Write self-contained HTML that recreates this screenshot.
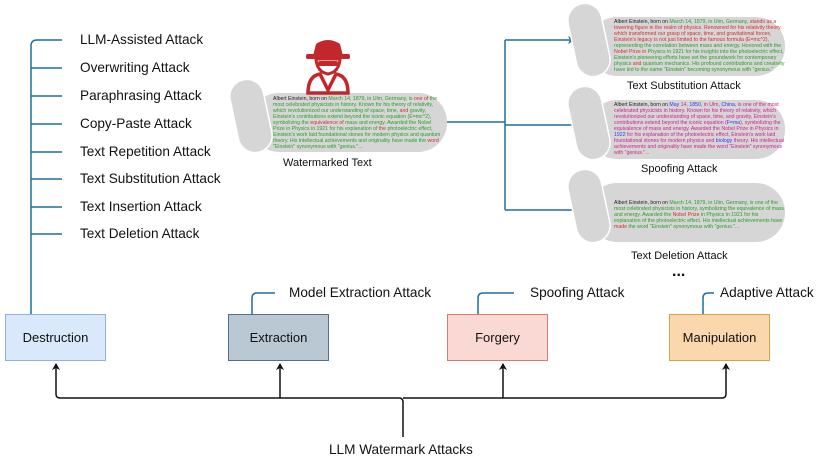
<!DOCTYPE html>
<html><head><meta charset="utf-8"><style>
body{margin:0;width:830px;height:462px;background:#fff;overflow:hidden;font-family:"Liberation Sans",sans-serif;position:relative}
.t{position:absolute;font-size:13.6px;color:#111;white-space:nowrap}
.box{position:absolute;width:101px;height:47px;display:flex;align-items:center;justify-content:center;font-size:13px;color:#111;box-sizing:border-box}
.sc{position:absolute;font-size:5.2px;line-height:6px;color:#2a9d2a}
.sc b{font-weight:normal;color:#222}.sc r{color:#d32f2f}.sc u{text-decoration:none;color:#3333ee}.sc m{color:#d02090}
.lab{position:absolute;font-size:11px;color:#111;white-space:nowrap}
</style></head><body>
<svg width="830" height="462" style="position:absolute;left:0;top:0">
<defs>
<marker id="ab" markerWidth="8" markerHeight="8" refX="6" refY="4" orient="auto" markerUnits="userSpaceOnUse"><path d="M0,0 L7,4 L0,8 L2,4z" fill="#111"/></marker>
<marker id="ah" markerWidth="8" markerHeight="8" refX="6" refY="4" orient="auto" markerUnits="userSpaceOnUse"><path d="M0,0 L7,4 L0,8 L2,4z" fill="#1f6f9a"/></marker>
<g id="scroll">
<rect x="20" y="17" width="197" height="59" rx="29" fill="#d6d6d6"/>
<rect x="4" y="3" width="34" height="74" rx="17" fill="#d6d6d6" stroke="#fff" stroke-width="1.5" transform="rotate(-12 21 40)"/>
</g>
</defs>
<g fill="none" stroke="#1f6f9a" stroke-width="1.5">
<path d="M31,314 V46 Q31,40 37,40 H62"/>
<path d="M31,68 H62 M31,96 H62 M31,124 H62 M31,152 H62 M31,179 H62 M31,207 H62 M31,234 H62"/>
<path d="M252,314 V298 Q252,293 257,293 H275"/>
<path d="M478,314 V298 Q478,293 483,293 H514"/>
<path d="M703,314 V298 Q703,293 708,293 H714"/>
<path d="M438,122 H505"/>
<path d="M505,40 V210"/>
<path d="M505,40 H574" marker-end="url(#ah)"/>
<path d="M505,125 H574"/>
<path d="M505,210 H574"/>
</g>
<g fill="none" stroke="#111" stroke-width="1.5">
<path d="M403,437 V401 M403,402 Q403,398 399,398 H60 Q56,398 56,394 V364" marker-end="url(#ab)"/>
<path d="M403,398 H722 Q726,398 726,394 V364" marker-end="url(#ab)"/>
<path d="M280,398 V364" marker-end="url(#ab)"/>
<path d="M503,398 V364" marker-end="url(#ab)"/>
</g>
<use href="#scroll" x="230" y="76"/>
<use href="#scroll" x="568" y="0"/>
<use href="#scroll" x="568" y="83"/>
<use href="#scroll" x="568" y="166"/>
<g fill="#c0282b">
<path d="M313,56 L316,44 Q328,36 340,44 L343,56 Z"/>
<rect x="306" y="54" width="44" height="5" rx="2"/>
<path d="M316,59 H340 Q339,72 328,74 Q317,72 316,59Z" fill="none" stroke="#c0282b" stroke-width="3"/>
<rect x="318" y="61" width="20" height="5" rx="2"/>
<path d="M308,93 Q308,76 320,74 L328,90 L336,74 Q348,76 348,93 Z" fill="none" stroke="#c0282b" stroke-width="3.5"/>
</g>
<text x="672" y="276" font-size="16" font-weight="bold" fill="#111" font-family="Liberation Sans">...</text>
</svg>
<div class="t" style="left:80px;top:32px">LLM-Assisted Attack</div>
<div class="t" style="left:80px;top:60px">Overwriting Attack</div>
<div class="t" style="left:80px;top:88px">Paraphrasing Attack</div>
<div class="t" style="left:80px;top:116px">Copy-Paste Attack</div>
<div class="t" style="left:80px;top:144px">Text Repetition Attack</div>
<div class="t" style="left:80px;top:171px">Text Substitution Attack</div>
<div class="t" style="left:80px;top:199px">Text Insertion Attack</div>
<div class="t" style="left:80px;top:226px">Text Deletion Attack</div>
<div class="t" style="left:289px;top:285px">Model Extraction Attack</div>
<div class="t" style="left:530px;top:285px">Spoofing Attack</div>
<div class="t" style="left:720px;top:285px">Adaptive Attack</div>
<div class="t" style="left:329px;top:442px">LLM Watermark Attacks</div>
<div class="box" style="left:5px;top:314px;background:#dae8fc;border:1px solid #8fb0e0">Destruction</div>
<div class="box" style="left:228px;top:314px;background:#bac8d3;border:1px solid #52708a">Extraction</div>
<div class="box" style="left:447px;top:314px;background:#fad9d5;border:1px solid #d87a72">Forgery</div>
<div class="box" style="left:669px;top:314px;background:#fad7ac;border:1px solid #d8a048">Manipulation</div>
<div class="lab" style="left:283px;top:157px">Watermarked Text</div>
<div class="lab" style="left:627px;top:80px">Text Substitution Attack</div>
<div class="lab" style="left:641px;top:163px">Spoofing Attack</div>
<div class="lab" style="left:631px;top:250px">Text Deletion Attack</div>
<div class="sc" style="left:273px;top:96px;width:168px"><b>Albert Einstein, born on</b> March 14, 1879, in Ulm, Germany, is <r>one of</r> the most celebrated physicists in history. Known for his theory of relativity, which revolutionized our understanding of space, time, <r>and</r> gravity, Einstein's contributions extend beyond the iconic equation (E=mc^2), symbolizing the <r>equivalence of</r> mass and energy. Awarded the Nobel Prize in Physics in 1921 for his explanation of <r>the</r> photoelectric effect, Einstein's work laid foundational stones for modern physics and quantum theory. His intellectual achievements and originality have made the <r>word</r> "Einstein" synonymous with "genius."...</div>
<div class="sc" style="left:614px;top:19px;width:172px"><b>Albert Einstein, born on</b> March 14, 1879, in Ulm, Germany, <r>stands as a towering figure in the realm of physics. Renowned for his relativity theory, which transformed our grasp of space, time, and gravitational forces, Einstein's legacy is not just limited to the famous formula (E=mc^2),</r> representing the correlation between mass and energy. Honored with the <r>Nobel Prize in</r> Physics in 1921 for his insights into the photoelectric effect, Einstein's pioneering efforts have set the groundwork for contemporary physics <r>and</r> quantum mechanics. His profound contributions and creativity have led to the name "Einstein" becoming synonymous with "genius."</div>
<div class="sc" style="left:614px;top:102px;width:172px;color:#d02090"><b>Albert Einstein, born on</b> <u>May</u> 14, <u>1850</u>, in Ulm, <u>China</u>, is one of the most celebrated physicists in history. Known for his theory of relativity, which revolutionized our understanding of space, time, and gravity, Einstein's contributions extend beyond the iconic equation (<u>F=ma</u>), symbolizing the equivalence of mass and energy. Awarded the Nobel Prize in Physics in <u>1922</u> for his explanation of the photoelectric effect, Einstein's work laid foundational stones for modern physics and <u>biology</u> theory. His intellectual achievements and originality have made the word "Einstein" synonymous with "genius."...</div>
<div class="sc" style="left:614px;top:200px;width:172px"><b>Albert Einstein, born on</b> March 14, 1879, in Ulm, Germany, is one of the most celebrated physicists in history, symbolizing the equivalence of mass and energy. Awarded the <r>Nobel Prize</r> in Physics in 1921 for his explanation of the photoelectric effect. His intellectual achievements have <r>made</r> the word "Einstein" synonymous with "genius."...</div>
</body></html>
